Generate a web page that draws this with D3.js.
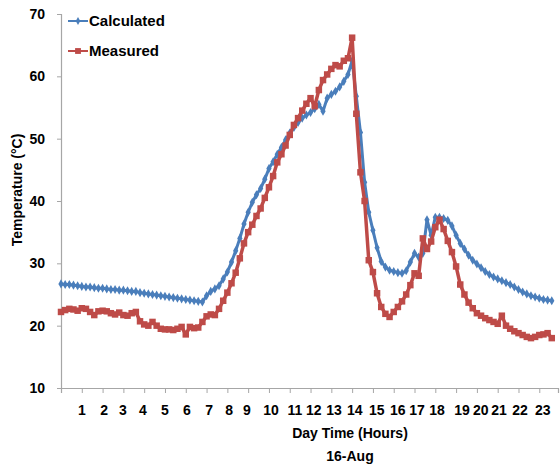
<!DOCTYPE html>
<html>
<head>
<meta charset="utf-8">
<script src="https://cdn.jsdelivr.net/npm/d3@7"></script>
<style>
  body { margin: 0; background: #fff; }
  svg text { font-family: "Liberation Sans", Arial, sans-serif; font-weight: bold; fill: #000; }
</style>
</head>
<body>
<div id="chart"></div>
<script>
// readings taken every 0.2 h from midnight
const startHour = 0;
const stepHour = 0.2;

const calculated = [
  26.7, 26.6, 26.6, 26.5, 26.4, 26.3, 26.2, 26.2, 26.1, 26.0,
  26.0, 25.9, 25.8, 25.8, 25.7, 25.7, 25.6, 25.5, 25.5, 25.3,
  25.2, 25.1, 25.0, 24.9, 24.8, 24.7, 24.6, 24.5, 24.4, 24.3,
  24.2, 24.1, 24.0, 23.9, 23.8, 24.8, 25.5, 25.9, 26.4, 27.5,
  28.6, 30.2, 32.0, 34.0, 36.3, 38.2, 39.8, 41.0, 42.0, 43.5,
  45.2, 46.3, 47.5, 48.6, 49.8, 50.9, 51.8, 52.6, 53.3, 53.8,
  54.2, 54.8, 55.5, 54.4, 56.5, 57.1, 57.6, 58.3, 59.2, 60.3,
  62.5, 56.8, 51.0, 43.0, 38.2, 35.3, 32.5, 30.3, 29.4, 28.9,
  28.7, 28.5, 28.4, 28.8, 30.2, 31.6, 31.0, 31.6, 37.0, 34.5,
  37.4, 37.4, 37.2, 36.9, 36.0, 34.5, 33.2, 32.3, 31.3, 30.5,
  29.9, 29.3, 28.7, 28.2, 27.8, 27.5, 27.2, 26.9, 26.6, 26.2,
  25.8, 25.4, 25.1, 24.8, 24.6, 24.4, 24.2, 24.1, 24.0
];

const measured = [
  22.2, 22.5, 22.7, 22.6, 22.4, 22.8, 22.7, 22.2, 21.7, 22.3,
  22.4, 22.3, 22.0, 21.8, 22.1, 21.7, 21.6, 22.0, 22.2, 20.7,
  20.2, 20.0, 20.6, 20.0, 19.5, 19.4, 19.4, 19.3, 19.5, 19.8,
  18.6, 19.8, 19.6, 19.7, 20.6, 21.5, 21.8, 21.7, 22.7, 24.0,
  25.3, 26.8, 28.5, 30.8, 33.2, 35.0, 36.2, 37.6, 38.8, 40.5,
  42.2, 44.0, 46.2, 47.5, 48.9, 50.6, 52.2, 53.3, 54.5, 55.6,
  56.5, 55.2, 57.8, 59.4, 60.3, 61.2, 61.8, 61.6, 62.5, 62.9,
  66.2, 54.0, 44.6, 40.0, 30.5, 28.6, 25.2, 23.0, 21.9, 21.4,
  22.2, 23.0, 23.9, 25.0, 26.5, 28.4, 28.0, 34.0, 32.3, 33.5,
  35.8, 37.0, 35.5, 33.6, 31.8, 29.5, 26.6, 25.0, 23.7, 22.8,
  22.0, 21.6, 21.2, 20.9, 20.6, 20.3, 21.6, 20.0, 19.5, 19.1,
  18.8, 18.5, 18.2, 18.0, 18.2, 18.5, 18.6, 18.8, 18.0
];

const seriesNames = ["Calculated", "Measured"];
const seriesColors = ["#4A7EBB", "#BE4B48"];

const yTicks = [10, 20, 30, 40, 50, 60, 70];
const xTickLabels = ["1","2","3","4","5","6","7","8","9","10","11","12",
  "13","14","15","16","17","18","19","20","21","22","23"];
// where Excel put each hour label along the axis (in hours)
const xTickLabelPos = [1.01, 2.07, 2.98, 3.94, 5.0, 6.06, 7.12, 8.08, 8.94, 10.1, 11.25, 12.16,
  13.13, 14.13, 15.19, 16.2, 17.12, 18.08, 19.28, 20.19, 21.06, 22.07, 23.17];

const width = 560, height = 471;
const margin = { top: 14, right: 2, bottom: 83, left: 61 };

const svg = d3.select("#chart").append("svg")
  .attr("width", width)
  .attr("height", height);

const x = d3.scaleLinear()
  .domain([0, 23.9])
  .range([margin.left, width - margin.right]);

const y = d3.scaleLinear()
  .domain([10, 70])
  .range([height - margin.bottom, margin.top]);

// y axis
const yAxis = d3.axisLeft(y).tickValues(yTicks).tickSize(4).tickPadding(12);
const yg = svg.append("g")
  .attr("transform", "translate(" + margin.left + ",0)")
  .call(yAxis);
yg.select(".domain").attr("stroke", "#A6A6A6").attr("stroke-width", 1.2);
yg.selectAll(".tick line").attr("stroke", "#A6A6A6");
yg.selectAll(".tick text").style("font-size", "14px");

// x axis: tick marks every hour, labels placed separately
const xAxis = d3.axisBottom(x).tickValues(d3.range(0, 24)).tickSize(5).tickFormat("");
const xg = svg.append("g")
  .attr("transform", "translate(0," + (height - margin.bottom) + ")")
  .call(xAxis);
xg.select(".domain").attr("stroke", "#A6A6A6").attr("stroke-width", 1.2);
xg.selectAll(".tick line").attr("stroke", "#A6A6A6");

svg.append("g").selectAll("text")
  .data(xTickLabels)
  .join("text")
  .attr("x", (d, i) => x(xTickLabelPos[i]))
  .attr("y", height - margin.bottom + 22)
  .attr("dy", "0.35em")
  .attr("text-anchor", "middle")
  .style("font-size", "14px")
  .text(d => d);

// axis titles
svg.append("text")
  .attr("x", 350)
  .attr("y", 433)
  .attr("dy", "0.35em")
  .attr("text-anchor", "middle")
  .style("font-size", "14px")
  .text("Day Time (Hours)");

svg.append("text")
  .attr("x", 350)
  .attr("y", 456)
  .attr("dy", "0.35em")
  .attr("text-anchor", "middle")
  .style("font-size", "14px")
  .text("16-Aug");

svg.append("text")
  .attr("transform", "translate(17,190) rotate(-90)")
  .attr("dy", "0.35em")
  .attr("text-anchor", "middle")
  .style("font-size", "14px")
  .text("Temperature (°C)");

// series
const allSeries = [calculated, measured];
const strokeWidths = [3, 3.5];
const symbols = [d3.symbol().type(d3.symbolDiamond).size(24), d3.symbol().type(d3.symbolSquare).size(42)];

const line = d3.line()
  .x((d, i) => x(startHour + i * stepHour))
  .y(d => y(d));

allSeries.forEach((values, s) => {
  const g = svg.append("g");
  g.append("path")
    .datum(values)
    .attr("fill", "none")
    .attr("stroke", seriesColors[s])
    .attr("stroke-width", strokeWidths[s])
    .attr("stroke-linejoin", "round")
    .attr("d", line);
  g.selectAll("path.marker")
    .data(values)
    .join("path")
    .attr("class", "marker")
    .attr("transform", (d, i) => "translate(" + x(startHour + i * stepHour) + "," + y(d) + ")")
    .attr("d", symbols[s])
    .attr("fill", seriesColors[s]);
});

// legend
const legendSymbols = [d3.symbol().type(d3.symbolDiamond).size(18), d3.symbol().type(d3.symbolSquare).size(34)];
const legend = svg.append("g");
seriesNames.forEach((name, s) => {
  const ly = 21 + s * 30;
  legend.append("line")
    .attr("x1", 68).attr("x2", 88)
    .attr("y1", ly).attr("y2", ly)
    .attr("stroke", seriesColors[s])
    .attr("stroke-width", 2);
  legend.append("path")
    .attr("transform", "translate(78," + ly + ")")
    .attr("d", legendSymbols[s])
    .attr("fill", seriesColors[s]);
  legend.append("text")
    .attr("x", 89)
    .attr("y", ly)
    .attr("dy", "0.35em")
    .style("font-size", "15px")
    .text(name);
});
</script>
</body>
</html>
